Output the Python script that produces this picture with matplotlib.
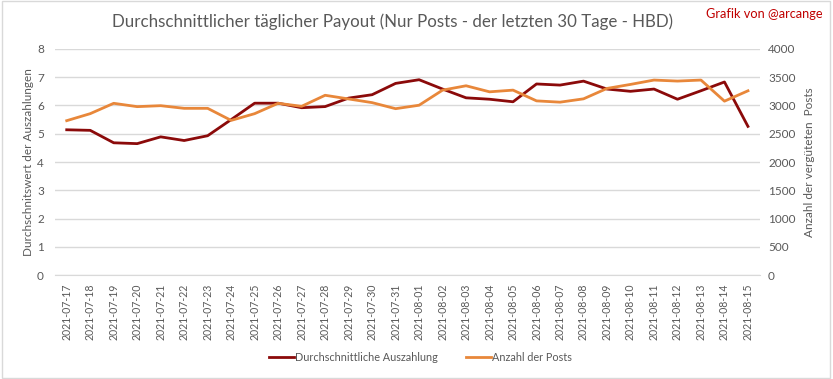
import numpy as np
import matplotlib
matplotlib.use("Agg")
import matplotlib.pyplot as plt
from matplotlib.patches import Rectangle

plt.rcParams['font.family'] = ['Lato', 'DejaVu Sans']

# Daten
tage = ['2021-07-17', '2021-07-18', '2021-07-19', '2021-07-20', '2021-07-21',
        '2021-07-22', '2021-07-23', '2021-07-24', '2021-07-25', '2021-07-26',
        '2021-07-27', '2021-07-28', '2021-07-29', '2021-07-30', '2021-07-31',
        '2021-08-01', '2021-08-02', '2021-08-03', '2021-08-04', '2021-08-05',
        '2021-08-06', '2021-08-07', '2021-08-08', '2021-08-09', '2021-08-10',
        '2021-08-11', '2021-08-12', '2021-08-13', '2021-08-14', '2021-08-15']
auszahlung = [5.14, 5.12, 4.68, 4.65, 4.89, 4.76, 4.93, 5.50, 6.08, 6.08,
              5.92, 5.96, 6.26, 6.38, 6.78, 6.91, 6.58, 6.27, 6.22, 6.13,
              6.76, 6.72, 6.86, 6.58, 6.50, 6.58, 6.22, 6.52, 6.83, 5.26]
posts = [2731, 2855, 3038, 2979, 2996, 2949, 2949, 2736, 2855, 3038,
         2985, 3180, 3115, 3050, 2943, 3004, 3271, 3348, 3241, 3271,
         3081, 3058, 3117, 3301, 3372, 3449, 3431, 3449, 3076, 3259]

rot = '#8B0A0A'
orange = '#E8873A'
grau = '#595959'
gitter = '#D9D9D9'

fig = plt.figure(figsize=(8.33, 3.79), dpi=100)
fig.patches.append(Rectangle((0.002, 0.003), 0.994, 0.994, transform=fig.transFigure,
                             fill=False, edgecolor=gitter, linewidth=1))

ax = fig.add_axes([0.066, 0.274, 0.846, 0.597])
ax2 = ax.twinx()

x = np.arange(len(tage))
l1, = ax.plot(x, auszahlung, color=rot, linewidth=2, label='Durchschnittliche Auszahlung', zorder=3)
l2, = ax2.plot(x, posts, color=orange, linewidth=2, label='Anzahl der Posts', zorder=2)

ax.set_xlim(-0.5, len(tage) - 0.5)
ax.set_ylim(0, 8)
ax2.set_ylim(0, 4000)
ax.set_yticks(range(0, 9))
ax2.set_yticks(range(0, 4001, 500))
ax.yaxis.grid(True, color=gitter, linewidth=1)
ax.set_axisbelow(True)

ax.set_xticks(x)
ax.set_xticklabels(tage, rotation=90, fontsize=7.6, color=grau)
ax.tick_params(axis='x', length=0, pad=6)
ax.tick_params(axis='y', length=0, labelsize=8.5, labelcolor=grau, pad=8)
ax2.tick_params(axis='y', length=0, labelsize=8.5, labelcolor=grau, pad=6)

for a in (ax, ax2):
    for s in a.spines.values():
        s.set_visible(False)
ax.spines['bottom'].set_visible(True)
ax.spines['bottom'].set_color(gitter)

ax.set_ylabel('Durchschnitswert der Auszahlungen', fontsize=8.5, color=grau, labelpad=2)
ax2.set_ylabel('Anzahl der vergüteten  Posts', fontsize=8.5, color=grau, labelpad=6)

fig.text(0.471, 0.942, 'Durchschnittlicher täglicher Payout (Nur Posts - der letzten 30 Tage - HBD)',
         ha='center', va='center', fontsize=12.15, color=grau)
fig.text(0.987, 0.962, 'Grafik von @arcange', ha='right', va='center', fontsize=9.2, color='#C00000')

fig.legend(handles=[l1, l2], loc='center', bbox_to_anchor=(0.505, 0.058), ncol=2,
           frameon=False, fontsize=7.8, labelcolor=grau, handlelength=2.3,
           handletextpad=0.1, columnspacing=2.6)

fig.savefig('out.png', dpi=100)
